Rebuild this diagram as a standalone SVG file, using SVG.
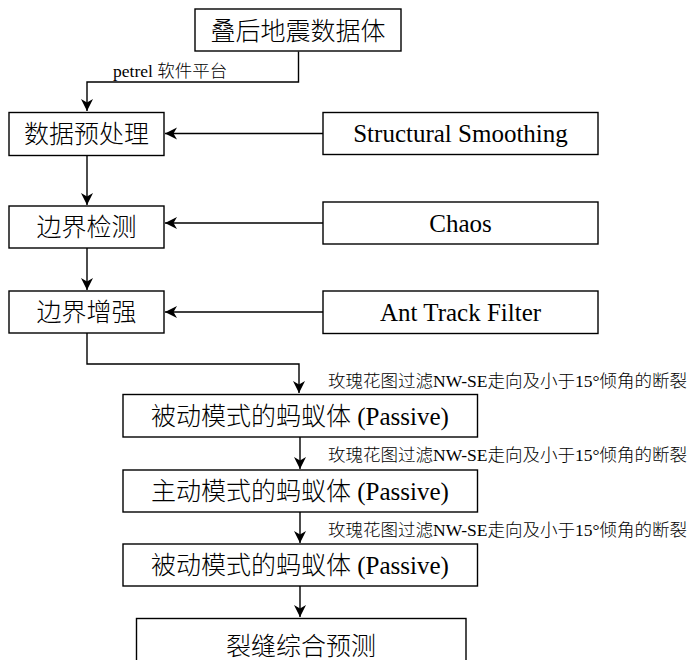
<svg xmlns="http://www.w3.org/2000/svg" width="689" height="660" viewBox="0 0 689 660">
<style>
.box{fill:#fff;stroke:#000;stroke-width:1.4}
.t{font-family:"Liberation Serif","Noto Sans CJK SC",serif;font-size:25px;font-weight:300;fill:#000;text-anchor:middle;dominant-baseline:central}
.lbl{font-family:"Liberation Serif","Noto Sans CJK SC",serif;font-size:17.5px;font-weight:300;fill:#000}
.c{fill:none;stroke:#000;stroke-width:1.4}
</style>
<defs>
<marker id="arr" markerUnits="userSpaceOnUse" markerWidth="14" markerHeight="14" viewBox="0 0 14 14" refX="12" refY="7" orient="auto">
<path d="M0,1 L12,7 L0,13 L3.5,7 z" fill="#000"/>
</marker>
</defs>
<g id="connectors">
<path class="c" d="M298.5,51.5 V82 H87 V111" marker-end="url(#arr)"/>
<path class="c" d="M323,133.5 H165" marker-end="url(#arr)"/>
<path class="c" d="M87,155 V205" marker-end="url(#arr)"/>
<path class="c" d="M323,223 H165" marker-end="url(#arr)"/>
<path class="c" d="M87,247.5 V290" marker-end="url(#arr)"/>
<path class="c" d="M323,312 H165" marker-end="url(#arr)"/>
<path class="c" d="M87,333 V364 H299 V393" marker-end="url(#arr)"/>
<path class="c" d="M300,437 V469" marker-end="url(#arr)"/>
<path class="c" d="M300,512 V543" marker-end="url(#arr)"/>
<path class="c" d="M300,586 V617" marker-end="url(#arr)"/>
<text class="lbl" x="113" y="77">petrel 软件平台</text>
<text class="lbl" x="328" y="387">玫瑰花图过滤NW-SE走向及小于15°倾角的断裂</text>
<text class="lbl" x="328" y="461">玫瑰花图过滤NW-SE走向及小于15°倾角的断裂</text>
<text class="lbl" x="328" y="536">玫瑰花图过滤NW-SE走向及小于15°倾角的断裂</text>
</g>
<g id="n1"><rect class="box" x="195" y="9" width="206" height="42"/><text class="t" x="298" y="31">叠后地震数据体</text></g>
<g id="n2"><rect class="box" x="9" y="112.5" width="155" height="43"/><text class="t" x="86.5" y="134">数据预处理</text></g>
<g id="n3"><rect class="box" x="323" y="112.5" width="275" height="42"/><text class="t" x="460.5" y="133.5">Structural Smoothing</text></g>
<g id="n4"><rect class="box" x="9" y="206" width="155" height="42"/><text class="t" x="86.5" y="227">边界检测</text></g>
<g id="n5"><rect class="box" x="323" y="202" width="275" height="42"/><text class="t" x="460.5" y="223">Chaos</text></g>
<g id="n6"><rect class="box" x="9" y="291" width="155" height="42"/><text class="t" x="86.5" y="312">边界增强</text></g>
<g id="n7"><rect class="box" x="323" y="291" width="275" height="42.5"/><text class="t" x="460.5" y="312">Ant Track Filter</text></g>
<g id="n8"><rect class="box" x="123" y="394.5" width="354.5" height="42.5"/><text class="t" x="300" y="416">被动模式的蚂蚁体 (Passive)</text></g>
<g id="n9"><rect class="box" x="123" y="470" width="354.5" height="42"/><text class="t" x="300" y="491">主动模式的蚂蚁体 (Passive)</text></g>
<g id="n10"><rect class="box" x="123" y="544" width="354.5" height="42"/><text class="t" x="300" y="565">被动模式的蚂蚁体 (Passive)</text></g>
<g id="n11"><rect class="box" x="136.5" y="618.5" width="329.5" height="60"/><text class="t" x="301" y="646">裂缝综合预测</text></g>
</svg>
